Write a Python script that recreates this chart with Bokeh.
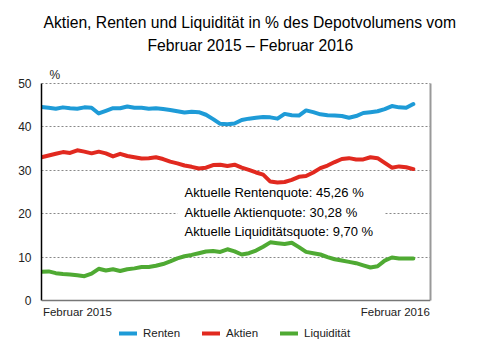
from bokeh.plotting import figure
from bokeh.models import (Range1d, FixedTicker, Label, Legend, LegendItem,
                          LinearAxis, BoxAnnotation, Title, Span)
from bokeh.embed import file_html
from bokeh.resources import INLINE

# ---- data (weekly, Feb 2015 - Feb 2016) ----
renten = [44.6, 44.4, 44.2, 44.5, 44.3, 44.2, 44.5, 44.4, 43.1, 43.7,
          44.3, 44.3, 44.7, 44.4, 44.4, 44.2, 44.3, 44.1, 43.9, 43.6,
          43.3, 43.5, 43.4, 42.8, 41.8, 40.7, 40.6, 40.8, 41.6, 41.9,
          42.1, 42.3, 42.2, 41.9, 43.0, 42.7, 42.6, 43.8, 43.4, 42.9,
          42.7, 42.6, 42.5, 42.1, 42.5, 43.2, 43.4, 43.6, 44.1, 44.8,
          44.5, 44.4, 45.26]
aktien = [33.0, 33.4, 33.8, 34.2, 34.0, 34.6, 34.3, 33.9, 34.3, 33.9,
          33.2, 33.8, 33.3, 33.0, 32.7, 32.8, 33.0, 32.6, 32.0, 31.6,
          31.1, 30.8, 30.4, 30.6, 31.2, 31.3, 31.0, 31.3, 30.6, 30.1,
          29.5, 29.0, 27.4, 27.2, 27.3, 27.8, 28.5, 28.7, 29.5, 30.5,
          31.1, 31.9, 32.6, 32.8, 32.5, 32.5, 33.0, 32.8, 31.7, 30.6,
          30.9, 30.7, 30.28]
liquiditaet = [6.6, 6.7, 6.3, 6.1, 6.0, 5.8, 5.6, 6.2, 7.3, 6.9,
               7.2, 6.8, 7.2, 7.4, 7.7, 7.7, 8.0, 8.4, 9.0, 9.7,
               10.2, 10.5, 10.9, 11.3, 11.4, 11.2, 11.8, 11.3, 10.6, 10.9,
               11.5, 12.4, 13.4, 13.2, 13.0, 13.3, 12.3, 11.2, 10.9, 10.6,
               10.0, 9.5, 9.2, 8.9, 8.6, 8.1, 7.6, 7.9, 9.2, 9.9,
               9.7, 9.7, 9.70]
weeks = list(range(len(renten)))
series_names = ["Renten", "Aktien", "Liquidität"]
y_ticks = [0, 10, 20, 30, 40, 50]
x_labels = ["Februar 2015", "Februar 2016"]
title_lines = ["Aktien, Renten und Liquidität in % des Depotvolumens vom",
               "Februar 2015 – Februar 2016"]
info_lines = ["Aktuelle Rentenquote: 45,26 %",
              "Aktuelle Aktienquote: 30,28 %",
              "Aktuelle Liquiditätsquote: 9,70 %"]

colors = ["#1E9BD7", "#E1291F", "#4FAA33"]
FONT = "Liberation Sans"
TOP = 56
SCALE = 217 / 50.0          # px per percent point
YMAX = (300 - TOP) / SCALE
YMIN = -(352 - 300) / SCALE

p = figure(frame_width=389, frame_height=352 - TOP, output_backend="svg",
           toolbar_location=None,
           x_range=Range1d(0, 54.4), y_range=Range1d(YMIN, YMAX),
           min_border_left=41, min_border_right=68, min_border_top=TOP,
           min_border_bottom=0, title=None)
p.outline_line_color = None
p.background_fill_color = "white"

# titles (first added = closest to the plot)
p.add_layout(Title(text=title_lines[1], align="left", offset=106,
                   text_font=FONT, text_font_size="15.7px",
                   text_font_style="normal", text_color="black",
                   standoff=6), "above")
p.add_layout(Title(text=title_lines[0], align="left", offset=2,
                   text_font=FONT, text_font_size="15.7px",
                   text_font_style="normal", text_color="black",
                   standoff=1), "above")

# y axis
p.yaxis.ticker = FixedTicker(ticks=y_ticks)
p.yaxis.bounds = (0, 50)
p.yaxis.major_tick_line_color = None
p.yaxis.minor_tick_line_color = None
p.yaxis.major_tick_out = 0
p.yaxis.axis_line_color = "black"
p.yaxis.axis_line_width = 1.5
p.yaxis.major_label_standoff = 10
p.yaxis.major_label_text_font = FONT
p.yaxis.major_label_text_font_size = "12px"
p.yaxis.major_label_text_color = "#222222"

p.xaxis.visible = False

right_axis = LinearAxis(ticker=FixedTicker(ticks=[]), axis_line_color="#999999",
                        axis_line_width=2, major_tick_line_color=None,
                        minor_tick_line_color=None, bounds=(0, 50),
                        major_tick_out=0)
p.add_layout(right_axis, "right")

# bottom baseline
p.add_layout(Span(location=0, dimension="width", line_color="#777777",
                  line_width=1.5))

p.xgrid.visible = False
p.ygrid.ticker = FixedTicker(ticks=[10, 20, 30, 40, 50])
p.ygrid.grid_line_color = "#888888"
p.ygrid.grid_line_dash = "2 2"
p.ygrid.grid_line_width = 1

# white box behind info text (over the gridline)
p.add_layout(BoxAnnotation(left=19.0, right=48.0, bottom=17, top=23,
                           fill_color="white", fill_alpha=1, line_color=None,
                           level="underlay"))

renderers = []
for vals, c in zip([renten, aktien, liquiditaet], colors):
    r = p.line(weeks, vals, line_color=c, line_width=4, line_join="round",
               line_cap="round")
    renderers.append(r)

# percent unit
p.add_layout(Label(x=1.85, y=50, y_offset=9, text="%", text_align="center",
                   text_baseline="middle", text_font=FONT,
                   text_font_size="12px", text_color="#222222"))

# x labels
p.add_layout(Label(x=0.2, y=0, y_offset=-5, text=x_labels[0], text_align="left",
                   text_baseline="top", text_font=FONT, text_font_size="11.5px",
                   text_color="#222222"))
p.add_layout(Label(x=54.3, y=0, y_offset=-5, text=x_labels[1], text_align="right",
                   text_baseline="top", text_font=FONT, text_font_size="11.5px",
                   text_color="#222222"))

# info text
for t, yv in zip(info_lines, [24.9, 20.3, 15.9]):
    p.add_layout(Label(x=20.0, y=yv, text=t, text_align="left",
                       text_baseline="middle", text_font=FONT,
                       text_font_size="13px", text_color="black"))

legend = Legend(items=[LegendItem(label=n, renderers=[r])
                       for n, r in zip(series_names, renderers)],
                orientation="horizontal", location=(78, 12),
                border_line_color=None, background_fill_alpha=0,
                label_text_font=FONT, label_text_font_size="11.5px",
                label_text_color="#222222", glyph_width=18, glyph_height=14,
                label_standoff=6, spacing=22, padding=0, margin=0)
p.add_layout(legend)

open("out.html", "w").write(file_html(p, INLINE))
